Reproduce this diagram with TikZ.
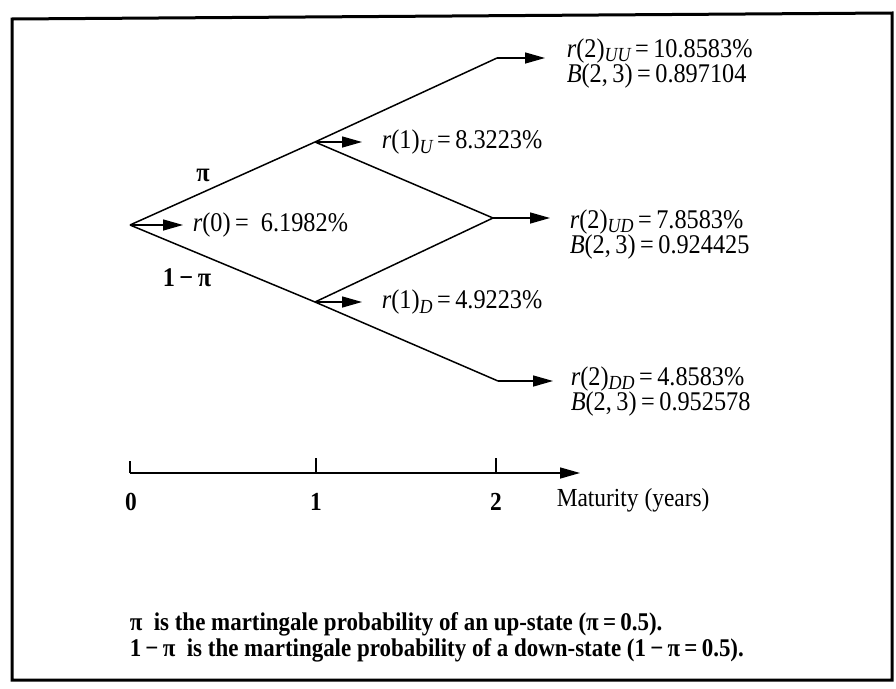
\documentclass[tikz,border=0pt]{standalone}
\usepackage{fontspec}
\setmainfont{Liberation Serif}[FakeStretch=0.9]
\usetikzlibrary{arrows.meta}
\newcommand\lowsub[1]{\raisebox{-0.18em}{\scalebox{0.74}{\itshape #1}}}
\begin{document}
\begin{tikzpicture}[x=1pt,y=-1pt,line width=1.5pt,
  arr/.style={-{Triangle[length=20pt,width=11pt]}},
  lab/.style={inner sep=0pt,font=\fontsize{27}{26}\selectfont},
  prob/.style={inner sep=0pt,font=\fontsize{27}{23}\selectfont\bfseries},
  axlab/.style={inner sep=0pt,font=\fontsize{26}{23}\selectfont},
  note/.style={inner sep=0pt,anchor=west,font=\fontsize{25.5}{21}\selectfont\bfseries}]
\useasboundingbox (0,0) rectangle (896,688);
% frame
\draw[line width=3pt] (12,19) -- (892,13) -- (892,680) -- (12,680) -- cycle;
% tree points
\coordinate (root) at (130,225);
\coordinate (u) at (315,142);
\coordinate (d) at (315,302);
\coordinate (uu) at (497,58);
\coordinate (ud) at (493,218);
\coordinate (dd) at (498,381);
\coordinate (r0tip) at (183,225);
\coordinate (utip) at (362,142);
\coordinate (dtip) at (362,302);
\coordinate (uutip) at (545,58);
\coordinate (udtip) at (550,218);
\coordinate (ddtip) at (553,381);
% branches
\draw (root) -- (u) -- (uu);
\draw (root) -- (d) -- (dd);
\draw (u) -- (ud) -- (d);
% arrows
\draw[arr] (root) -- (r0tip);
\draw[arr] (u) -- (utip);
\draw[arr] (d) -- (dtip);
\draw[arr] (uu) -- (uutip);
\draw[arr] (ud) -- (udtip);
\draw[arr] (dd) -- (ddtip);
% labels
\node[lab,anchor=west] (r0) at (192,225) {\textit{r}(0)\,=\ \ 6.1982\%};
\node[lab,anchor=west] (r1u) at (381,142) {\textit{r}(1)\lowsub{U}\,=\,8.3223\%};
\node[lab,anchor=west] (r1d) at (381,302) {\textit{r}(1)\lowsub{D}\,=\,4.9223\%};
\node[lab,anchor=base west] (r2uu) at (566,57) {\textit{r}(2)\lowsub{UU}\,=\,10.8583\%};
\node[lab,anchor=base west] (b2uu) at (566,82) {\textit{B}(2,\,3)\,=\,0.897104};
\node[lab,anchor=base west] (r2ud) at (569,228) {\textit{r}(2)\lowsub{UD}\,=\,7.8583\%};
\node[lab,anchor=base west] (b2ud) at (569,253) {\textit{B}(2,\,3)\,=\,0.924425};
\node[lab,anchor=base west] (r2dd) at (570,385) {\textit{r}(2)\lowsub{DD}\,=\,4.8583\%};
\node[lab,anchor=base west] (b2dd) at (570,410) {\textit{B}(2,\,3)\,=\,0.952578};
\node[prob] (pup) at (203,175) {π};
\node[prob] (pdn) at (187,278) {1\,−\,π};
% axis
\coordinate (a0) at (130,473);
\coordinate (a1) at (316,473);
\coordinate (a2) at (496,473);
\coordinate (aend) at (580,473);
\draw[arr] (a0) -- (aend);
\draw (a0) -- ++(0,-12);
\draw (a1) -- ++(0,-15);
\draw (a2) -- ++(0,-15);
\node[axlab,font=\fontsize{26}{23}\selectfont\bfseries] (t0) at (131,502) {0};
\node[axlab,font=\fontsize{26}{23}\selectfont\bfseries] (t1) at (316,502) {1};
\node[axlab,font=\fontsize{26}{23}\selectfont\bfseries] (t2) at (496,502) {2};
\node[axlab,anchor=west] (mat) at (556,500) {Maturity (years)};
% notes
\node[note] (n1) at (129,624) {π\ \ is the martingale probability of an up-state (π\,=\,0.5).};
\node[note] (n2) at (129,650) {1\,−\,π\ \ is the martingale probability of a down-state (1\,−\,π\,=\,0.5).};
\end{tikzpicture}
\end{document}
